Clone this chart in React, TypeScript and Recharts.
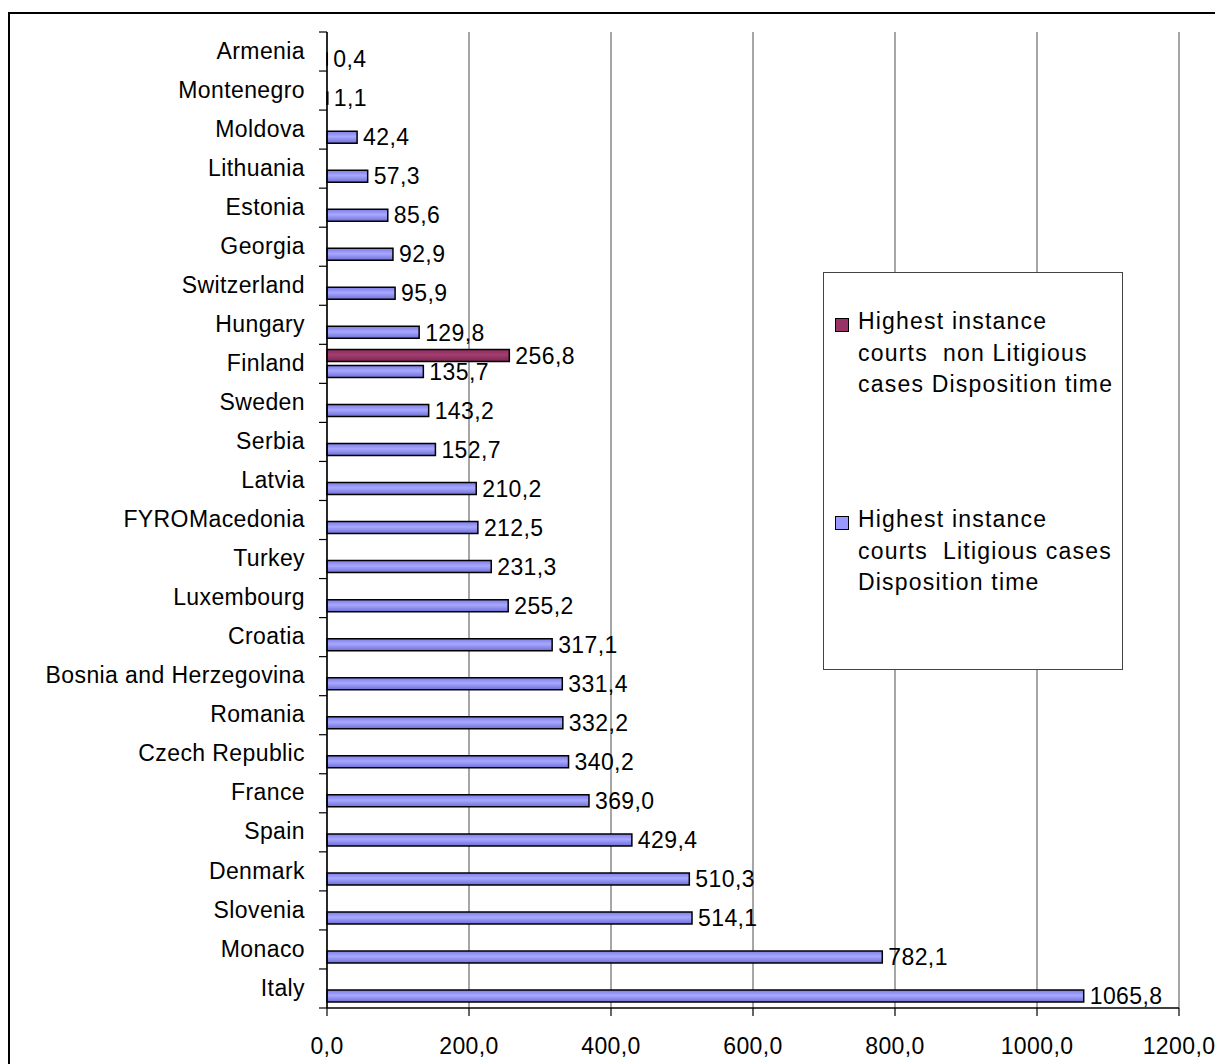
import { BarChart, Bar, XAxis, YAxis, CartesianGrid, LabelList } from "recharts";

const countries = [
  "Armenia", "Montenegro", "Moldova", "Lithuania", "Estonia", "Georgia",
  "Switzerland", "Hungary", "Finland", "Sweden", "Serbia", "Latvia",
  "FYROMacedonia", "Turkey", "Luxembourg", "Croatia", "Bosnia and Herzegovina ",
  "Romania", "Czech Republic", "France", "Spain", "Denmark", "Slovenia",
  "Monaco", "Italy",
];

const litigious = [
  0.4, 1.1, 42.4, 57.3, 85.6, 92.9, 95.9, 129.8, 135.7, 143.2, 152.7, 210.2,
  212.5, 231.3, 255.2, 317.1, 331.4, 332.2, 340.2, 369.0, 429.4, 510.3, 514.1,
  782.1, 1065.8,
];

const nonLitigious = [
  null, null, null, null, null, null, null, null, 256.8, null, null, null,
  null, null, null, null, null, null, null, null, null, null, null, null, null,
];

const xTicks = [0, 200, 400, 600, 800, 1000, 1200];

const seriesNames = [
  "Highest instance\ncourts  non Litigious\ncases Disposition time",
  "Highest instance\ncourts  Litigious cases\nDisposition time",
];

const data = countries.map((name, i) => ({
  name,
  nonLit: nonLitigious[i],
  lit: litigious[i],
}));

const FONT = "'Liberation Sans', Arial, sans-serif";
const fmt = (v: any) =>
  v == null || v === "" ? "" : Number(v).toFixed(1).replace(".", ",");

function CountryTick(props: any) {
  const { x, y, payload, index } = props;
  const half = payload && payload.offset ? payload.offset : 19.52;
  return (
    <g>
      <line x1={x - 8} x2={x} y1={y - half} y2={y - half} stroke="#000" strokeWidth={1.2} />
      {index === countries.length - 1 && (
        <line x1={x - 8} x2={x} y1={y + half} y2={y + half} stroke="#000" strokeWidth={1.2} />
      )}
      <text
        x={x - 22}
        y={y - 1}
        dy="0.355em"
        textAnchor="end"
        fontSize={23}
        fontFamily={FONT}
        letterSpacing={0.4}
        fill="#000"
      >
        {payload.value}
      </text>
    </g>
  );
}

export default function App() {
  return (
    <div style={{ paddingTop: 4 }}>
      <style>{`body{overflow:hidden}`}</style>
      <div
        style={{
          position: "relative",
          width: 1214,
          height: 1056,
          border: "2px solid #000",
          boxSizing: "border-box",
          overflow: "hidden",
          background: "#fff",
        }}
      >
        <BarChart
          width={1210}
          height={1050}
          data={data}
          layout="vertical"
          margin={{ top: 18, right: 41, bottom: 16, left: 0 }}
          barCategoryGap="13%"
          barGap={4}
        >
          <defs>
            <linearGradient id="gBlue" x1="0" y1="0" x2="0" y2="1">
              <stop offset="0%" stopColor="#7d7de6" />
              <stop offset="45%" stopColor="#a8a8ff" />
              <stop offset="100%" stopColor="#6e6ed8" />
            </linearGradient>
            <linearGradient id="gPurple" x1="0" y1="0" x2="0" y2="1">
              <stop offset="0%" stopColor="#8a2d5c" />
              <stop offset="45%" stopColor="#a33d70" />
              <stop offset="100%" stopColor="#7a2650" />
            </linearGradient>
          </defs>
          <CartesianGrid horizontal={false} stroke="#888" strokeWidth={1.5} />
          <XAxis
            type="number"
            domain={[0, 1200]}
            ticks={xTicks}
            tickFormatter={fmt}
            height={40}
            tickSize={8}
            tickMargin={22}
            axisLine={{ stroke: "#000", strokeWidth: 1.5 }}
            tickLine={{ stroke: "#000", strokeWidth: 1.2 }}
            tick={{ fontSize: 23, fontFamily: FONT, fill: "#000", letterSpacing: 0.4 }}
            interval={0}
          />
          <XAxis
            xAxisId="top"
            orientation="top"
            type="number"
            domain={[0, 1200]}
            height={0}
            tick={false}
            tickLine={false}
            axisLine={{ stroke: "#888", strokeWidth: 1.5 }}
          />
          <YAxis
            type="category"
            dataKey="name"
            width={317}
            tickSize={0}
            tickMargin={0}
            tickLine={false}
            interval={0}
            axisLine={{ stroke: "#000", strokeWidth: 1.5 }}
            tick={<CountryTick />}
          />
          <Bar
            dataKey="nonLit"
            name={seriesNames[0]}
            fill="url(#gPurple)"
            stroke="#000"
            strokeWidth={1.5}
            isAnimationActive={false}
          >
            <LabelList
              dataKey="nonLit"
              position="right"
              offset={6}
              formatter={fmt}
              style={{ fontSize: 23, fontFamily: FONT, fill: "#000", letterSpacing: 0.4 }}
            />
          </Bar>
          <Bar
            dataKey="lit"
            name={seriesNames[1]}
            fill="url(#gBlue)"
            stroke="#000"
            strokeWidth={1.5}
            isAnimationActive={false}
          >
            <LabelList
              dataKey="lit"
              position="right"
              offset={6}
              formatter={fmt}
              style={{ fontSize: 23, fontFamily: FONT, fill: "#000", letterSpacing: 0.4 }}
            />
          </Bar>
        </BarChart>
        <div
          style={{
            position: "absolute",
            left: 813,
            top: 258,
            width: 300,
            height: 398,
            boxSizing: "border-box",
            border: "1.5px solid #444",
            background: "#fff",
            fontFamily: FONT,
            fontSize: 23,
            letterSpacing: 1.2,
            lineHeight: "31.7px",
            color: "#000",
          }}
        >
          {seriesNames.map((label, i) => (
            <div
              key={i}
              style={{ position: "absolute", left: 0, top: i === 0 ? 33 : 231, width: 300 }}
            >
              <span
                style={{
                  position: "absolute",
                  left: 11,
                  top: 12,
                  width: 12,
                  height: 12,
                  border: "1.5px solid #000",
                  background: i === 0 ? "#993366" : "#9999ff",
                }}
              />
              <div style={{ marginLeft: 34, whiteSpace: "pre" }}>{label}</div>
            </div>
          ))}
        </div>
      </div>
    </div>
  );
}
